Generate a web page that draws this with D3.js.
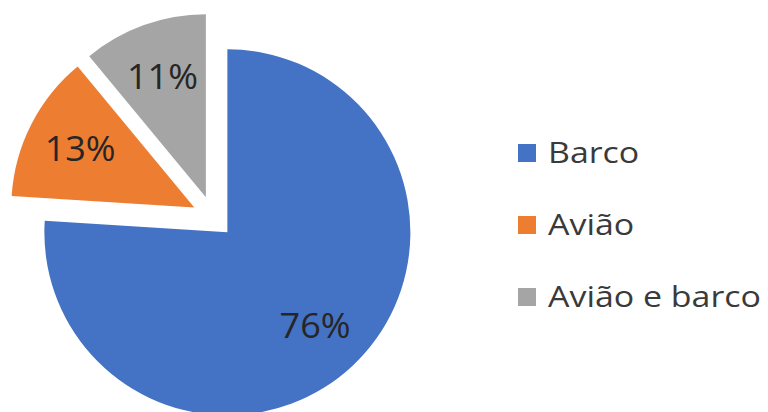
<!DOCTYPE html>
<html>
  <head>
    <meta charset="utf-8">
    <title>pie</title>
    <script src="https://cdn.jsdelivr.net/npm/d3@7"></script>
    <style>
      body { margin: 0; background: #fff; }
      text { font-family: "Open Sans", sans-serif; }
    </style>
  </head>
  <body>
    <div id="container"></div>
    <script>
      var categories = ["Barco", "Avião", "Avião e barco"];
      var values = [76, 13, 11];
      var labels = ["76%", "13%", "11%"];
      var colors = ["#4472C4", "#ED7D31", "#A5A5A5"];

      var width = 768, height = 412;
      var cx = 213, cy = 217, radius = 183, explode = 21;

      var svg = d3.select("#container").append("svg")
        .attr("width", width)
        .attr("height", height);

      var pie = d3.pie().sort(null).value(function(d) { return d; });
      var arc = d3.arc().innerRadius(0).outerRadius(radius);
      var arcs = pie(values);

      function offset(d, r) {
        var a = (d.startAngle + d.endAngle) / 2;
        return [Math.sin(a) * r, -Math.cos(a) * r];
      }

      var g = svg.append("g").attr("transform", "translate(" + cx + "," + cy + ")");

      var slice = g.selectAll("g.slice")
          .data(arcs)
        .enter().append("g")
          .attr("class", "slice")
          .attr("transform", function(d) {
            var o = offset(d, explode);
            return "translate(" + o[0] + "," + o[1] + ")";
          });

      slice.append("path")
        .attr("d", arc)
        .attr("fill", function(d, i) { return colors[i]; });

      // labels, slightly stretched like the original
      slice.append("text")
        .attr("transform", function(d) {
          var p = offset(d, radius * 0.7);
          return "translate(" + p[0] + "," + (p[1] + 12) + ") scale(1.06,1)";
        })
        .attr("text-anchor", "middle")
        .attr("font-size", 34)
        .attr("fill", "#262626")
        .text(function(d, i) { return labels[i]; });

      // legend
      var legend = svg.append("g").attr("transform", "translate(518,0)");
      var rowY = d3.scalePoint().domain(categories).range([163, 307]);

      var item = legend.selectAll("g.item")
          .data(categories)
        .enter().append("g")
          .attr("class", "item")
          .attr("transform", function(d) { return "translate(0," + rowY(d) + ")"; });

      item.append("rect")
        .attr("x", 0)
        .attr("y", -19)
        .attr("width", 18)
        .attr("height", 18)
        .attr("fill", function(d, i) { return colors[i]; });

      item.append("text")
        .attr("transform", "translate(30,0) scale(1.17,1)")
        .attr("font-size", 29)
        .attr("fill", "#3a3a3a")
        .text(function(d) { return d; });
    </script>
  </body>
</html>
